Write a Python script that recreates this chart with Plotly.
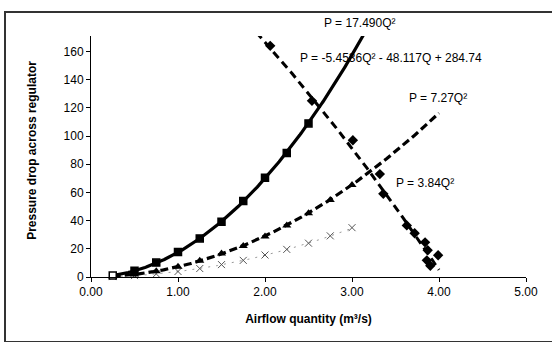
import numpy as np
import plotly.graph_objects as go

# ---- data ----
q_sq = [0.25, 0.50, 0.75, 1.00, 1.25, 1.50, 1.75, 2.00, 2.25, 2.50]
p_sq = [1.1, 4.5, 10.2, 17.8, 27.4, 39.2, 54.0, 70.5, 88.0, 109.0]

q_tri = [0.25, 0.50, 0.75, 1.00, 1.25, 1.50, 1.75, 2.00, 2.25, 2.50, 2.75, 3.00]
p_tri = [0.5, 1.8, 4.1, 7.3, 11.6, 16.6, 22.0, 28.8, 36.5, 45.2, 54.6, 65.2]

q_x = [0.25, 0.50, 0.75, 1.00, 1.25, 1.50, 1.75, 2.00, 2.25, 2.50, 2.75, 3.00]
p_x = [0.3, 1.0, 2.2, 3.9, 6.0, 8.8, 11.8, 15.6, 19.6, 24.0, 29.2, 35.0]

q_dia = [2.06, 2.54, 3.01, 3.32, 3.36, 3.63, 3.72, 3.84, 3.87, 3.99, 3.86, 3.90]
p_dia = [164, 125, 97, 73, 59, 36.6, 31, 24.6, 19, 15.4, 11.8, 8]

# trendline coefficients as labelled on the chart (a, b, c for aQ^2 + bQ + c)
coef_sq = [17.490, 0, 0]
coef_tri = [7.27, 0, 0]
coef_x = [3.84, 0, 0]
coef_dia = [-5.4536, -48.117, 284.74]

# trendline extents (Q)
ext_sq = [0.25, 3.2]
ext_tri = [0.25, 4.0]
ext_x = [0.25, 3.0]
ext_dia = [1.90, 4.0]

labels = ["P = 17.490Q²", "P = -5.4536Q² - 48.117Q + 284.74", "P = 7.27Q²", "P = 3.84Q²"]
# label anchor positions (paper fraction of plot area), left-anchored
label_px = [0.53, 0.476, 0.726, 0.696]
label_py = [1.054, 0.909, 0.743, 0.39]

x_ticks = [0, 1, 2, 3, 4, 5]
y_ticks = [0, 20, 40, 60, 80, 100, 120, 140, 160]

FONT = "Liberation Sans, Arial, sans-serif"


def curve(coef, ext):
    q = np.linspace(ext[0], ext[1], 200)
    return q, np.polyval(coef, q)


fig = go.Figure()

# trendlines
for coef, ext, dash, w, col in [
    (coef_x, ext_x, "2px,6px", 1.0, "#999"),
    (coef_sq, ext_sq, "solid", 3.2, "black"),
    (coef_tri, ext_tri, "8px,4px", 3.2, "black"),
    (coef_dia, ext_dia, "8px,5px", 3.0, "black"),
]:
    qq, pp = curve(coef, ext)
    fig.add_trace(go.Scatter(x=qq, y=pp, mode="lines",
                             line=dict(color=col, width=w, dash=dash),
                             hoverinfo="skip", showlegend=False))

# markers
fig.add_trace(go.Scatter(x=q_x, y=p_x, mode="markers",
                         marker=dict(symbol="x-thin", size=7, color="#555",
                                     line=dict(width=1, color="#555")),
                         showlegend=False, cliponaxis=False))
fig.add_trace(go.Scatter(x=q_tri, y=p_tri, mode="markers",
                         marker=dict(symbol="triangle-up", size=8, color="black"),
                         showlegend=False, cliponaxis=False))
sq_fill = ["white"] + ["black"] * (len(q_sq) - 1)
fig.add_trace(go.Scatter(x=q_sq, y=p_sq, mode="markers",
                         marker=dict(symbol="square", size=7, color=sq_fill,
                                     line=dict(width=1.5, color="black")),
                         showlegend=False, cliponaxis=False))
fig.add_trace(go.Scatter(x=q_dia, y=p_dia, mode="markers",
                         marker=dict(symbol="diamond", size=8, color="black"),
                         showlegend=False, cliponaxis=False))

for t, lx, ly in zip(labels, label_px, label_py):
    fig.add_annotation(x=lx, y=ly, xref="paper", yref="paper", text=t, showarrow=False,
                       xanchor="left", yanchor="middle",
                       font=dict(family=FONT, size=12, color="black"))

# y axis title
fig.add_annotation(x=-0.136, y=0.527, xref="paper", yref="paper",
                   text="<b>Pressure drop across regulator</b>", textangle=-90,
                   showarrow=False, xanchor="center", yanchor="middle",
                   font=dict(family=FONT, size=12, color="black"))

# outer chart border (extends off the right/bottom edges)
fig.add_shape(type="rect", xref="paper", yref="paper",
              x0=-0.1977, x1=1.08, y0=-0.27, y1=1.0996,
              line=dict(color="#333", width=2), layer="below")

fig.update_layout(
    width=552, height=342,
    margin=dict(l=91, r=26, t=36, b=65),
    paper_bgcolor="white", plot_bgcolor="white",
    font=dict(family=FONT, size=12, color="black"),
    xaxis=dict(range=[0, 5], tickvals=x_ticks, tickformat=".2f",
               showgrid=False, zeroline=False, showline=True,
               linecolor="black", linewidth=1, ticks="outside", ticklen=4,
               tickcolor="black",
               title=dict(text="<b>Airflow quantity (m³/s)</b>", standoff=16,
                          font=dict(family=FONT, size=12))),
    yaxis=dict(range=[0, 171], tickvals=y_ticks,
               showgrid=False, zeroline=False, showline=True,
               linecolor="black", linewidth=1, ticks="outside", ticklen=4,
               tickcolor="black"),
)

fig.write_html("out.html")
